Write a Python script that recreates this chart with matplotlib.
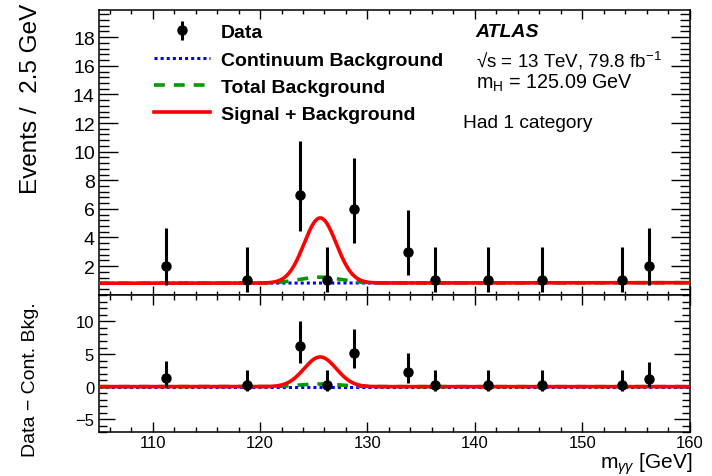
import numpy as np
import matplotlib
matplotlib.use("Agg")
import matplotlib.pyplot as plt
from matplotlib.ticker import MultipleLocator

plt.rcParams['font.family'] = ['Liberation Sans', 'DejaVu Sans']
plt.rcParams['mathtext.fontset'] = 'custom'
plt.rcParams['mathtext.rm'] = 'Liberation Sans'
plt.rcParams['mathtext.it'] = 'Liberation Sans:italic'
plt.rcParams['mathtext.bf'] = 'Liberation Sans:bold'

# ---- data ----
mass = [111.25, 118.75, 123.75, 126.25, 128.75, 133.75, 136.25, 141.25, 146.25, 153.75, 156.25]
events = [2, 1, 7, 1, 6, 3, 1, 1, 1, 1, 2]
err_lo = [1.29, 0.83, 2.58, 0.83, 2.38, 1.63, 0.83, 0.83, 0.83, 0.83, 1.29]
err_hi = [2.64, 2.30, 3.77, 2.30, 3.58, 2.92, 2.30, 2.30, 2.30, 2.30, 2.64]
diff = [1.25, 0.22, 6.25, 0.22, 5.22, 2.25, 0.22, 0.22, 0.22, 0.22, 1.20]

# fitted model parameters
cont_left, cont_right = 0.80, 0.84      # continuum level at 105 and 160 GeV
higgs_bkg_peak = 0.41                    # resonant background height
sig_plus_hbkg_peak = 4.55                # signal + resonant background height
peak_pos = 125.6
peak_width = 1.5

xlim = (105, 160)
x = np.linspace(xlim[0], xlim[1], 800)
cont = cont_left + (cont_right - cont_left) * (x - xlim[0]) / (xlim[1] - xlim[0])
shape = np.exp(-0.5 * ((x - peak_pos) / peak_width) ** 2)
hbkg = higgs_bkg_peak * np.exp(-0.5 * ((x - peak_pos) / (peak_width * 1.3)) ** 2)
sig = sig_plus_hbkg_peak * shape

W, H = 712, 477
fig = plt.figure(figsize=(W / 100, H / 100), dpi=100)
L, R = 99 / W, 689.5 / W
ax1 = fig.add_axes([L, 1 - 295.7 / H, R - L, (295.7 - 11) / H])
ax2 = fig.add_axes([L, 1 - 433.3 / H, R - L, (433.3 - 295.7) / H])

red = '#ff0000'
green = '#009900'
blue = '#0000ff'

# top panel
ax1.plot(x, cont, color=blue, lw=2.2, ls=(0, (1, 1)), label='Continuum Background', zorder=2)
ax1.plot(x, cont + hbkg, color=green, lw=2.6, ls=(0, (3, 2.5)), label='Total Background', zorder=3)
ax1.plot(x, cont + sig, color=red, lw=2.6, label='Signal + Background', zorder=4)
ax1.errorbar(mass, events, yerr=[err_lo, err_hi], fmt='o', color='black', ms=6.5,
             elinewidth=2.2, capsize=0, label='Data', zorder=5)
ax1.set_xlim(*xlim)
ax1.set_ylim(0, 19.9)
ax1.set_xticklabels([])
ax1.xaxis.set_major_locator(MultipleLocator(10))
ax1.xaxis.set_minor_locator(MultipleLocator(2))
ax1.yaxis.set_major_locator(MultipleLocator(2))
ax1.yaxis.set_minor_locator(MultipleLocator(0.4))
ax1.set_yticks([2, 4, 6, 8, 10, 12, 14, 16, 18])
ax1.tick_params(which='both', direction='in', top=True, right=True, labelsize=14)
ax1.tick_params(axis='y', which='major', length=13.5, width=1.0, pad=3)
ax1.tick_params(axis='y', which='minor', length=7, width=1.0)
ax1.tick_params(axis='x', which='major', length=6.5, width=1.0)
ax1.tick_params(axis='x', which='minor', length=3.2, width=1.0)

# legend
h, l = ax1.get_legend_handles_labels()
order = [3, 0, 1, 2]
leg = ax1.legend([h[i] for i in order], [l[i] for i in order], loc='upper left',
                 bbox_to_anchor=(0.070, 1.0), frameon=False, handlelength=2.9,
                 handletextpad=0.55, labelspacing=0.5, borderaxespad=0.3,
                 prop={'weight': 'bold', 'size': 14})

ax1.text(0.638, 0.925, 'ATLAS', transform=ax1.transAxes, fontsize=14,
         fontweight='bold', fontstyle='italic', va='center')
ax1.text(0.638, 0.826, '√s = 13 TeV, 79.8 fb$^{-1}$', transform=ax1.transAxes,
         fontsize=13.5, va='center')
ax1.text(0.638, 0.745, 'm$_{\\mathrm{H}}$ = 125.09 GeV', transform=ax1.transAxes,
         fontsize=14.2, va='center')
ax1.text(0.616, 0.605, 'Had 1 category', transform=ax1.transAxes, fontsize=13.8,
         va='center')

# bottom panel
ax2.axhline(0, color=blue, lw=2.2, ls=(0, (1, 1)), zorder=2)
ax2.plot(x, hbkg, color=green, lw=2.6, ls=(0, (3, 2.5)), zorder=3)
ax2.plot(x, sig, color=red, lw=2.6, zorder=4)
ax2.errorbar(mass, diff, yerr=[err_lo, err_hi], fmt='o', color='black', ms=6.5,
             elinewidth=2.2, capsize=0, zorder=5)
ax2.set_xlim(*xlim)
ax2.set_ylim(-7, 14.1)
ax2.xaxis.set_major_locator(MultipleLocator(10))
ax2.xaxis.set_minor_locator(MultipleLocator(2))
ax2.yaxis.set_major_locator(MultipleLocator(5))
ax2.yaxis.set_minor_locator(MultipleLocator(1))
ax2.tick_params(which='both', direction='in', top=True, right=True, labelsize=12)
ax2.tick_params(axis='y', which='major', length=11.5, width=1.0)
ax2.tick_params(axis='y', which='minor', length=6, width=1.0)
ax2.tick_params(axis='x', which='major', length=7, width=1.0, pad=2)
ax2.tick_params(axis='x', which='minor', length=3.5, width=1.0)
ax2.set_xticks([110, 120, 130, 140, 150, 160])
ax2.set_yticks([-5, 0, 5, 10])
ax2.set_yticklabels(['−5', '0', '5', '10'])

for ax in (ax1, ax2):
    for s in ax.spines.values():
        s.set_linewidth(1.1)

fig.text(31 / W, 1 - 4 / H, 'Events /  2.5 GeV', rotation=90, ha='center', va='top',
         fontsize=17.5)
fig.text(31 / W, 1 - 302 / H, 'Data − Cont. Bkg.', rotation=90, ha='center', va='top',
         fontsize=14)
fig.text(692 / W, 1 - 469 / H, 'm$_{\\gamma\\gamma}$ [GeV]', ha='right', va='baseline',
         fontsize=15)

fig.savefig('out.png', dpi=100)
